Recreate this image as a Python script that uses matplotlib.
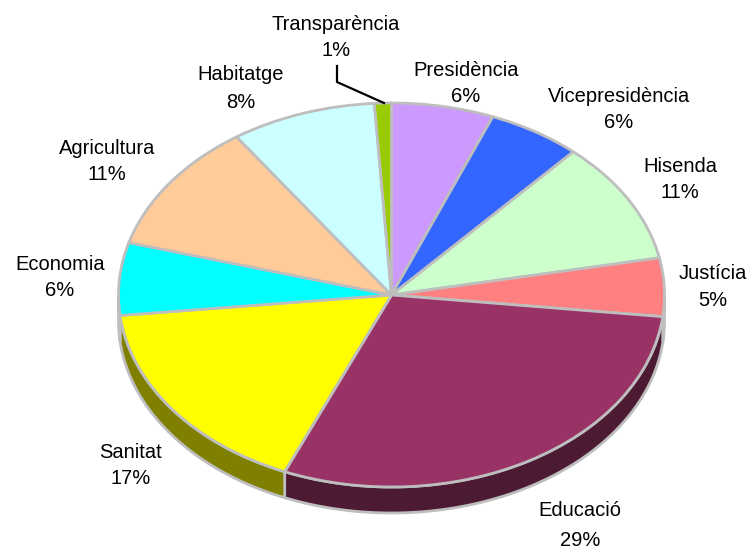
import numpy as np
import matplotlib
matplotlib.use('Agg')
import matplotlib.pyplot as plt
from matplotlib.lines import Line2D

plt.rcParams['font.family'] = ['Liberation Sans', 'DejaVu Sans']

categories = ['Presidència', 'Vicepresidència', 'Hisenda', 'Justícia', 'Educació',
              'Sanitat', 'Economia', 'Agricultura', 'Habitatge', 'Transparència']
# slice sizes as measured on the picture, the printed percentages are rounded
shares = [6.05, 5.55, 10.3, 4.9, 29.6, 16.9, 6.1, 11.0, 8.6, 1.0]
printed = ['6%', '6%', '11%', '5%', '29%', '17%', '6%', '11%', '8%', '1%']
colors = ['#CC99FF', '#3366FF', '#CCFFCC', '#FF8080', '#993366',
          '#FFFF00', '#00FFFF', '#FFCC99', '#CCFFFF', '#99CC00']
side_colors = ['#664C80', '#1A3380', '#668066', '#BEBEBE', '#4D1A33',
               '#808000', '#008080', '#80664C', '#668080', '#4D6600']

W, H = 752, 551
CX, CY, RX, RY = 391.5, 295.0, 273.0, 192.0
DEPTH = 26.0 / RY
EDGE = '#BEBEBE'

# label centres in pixels: name line, percent line
label_pos = [(466, 70, 96), (619, 96, 122), (680, 167, 193), (713, 274, 300), (580, 511, 540),
             (131, 452, 478), (60, 264, 290), (107, 148, 174), (241, 75, 102), (336, 24, 51)]

fig = plt.figure(figsize=(W / 100, H / 100), dpi=100)
ax = fig.add_axes([(CX - RX) / W, 1 - (CY + RY) / H, 2 * RX / W, 2 * RY / H])

wedges, _ = ax.pie(shares, colors=colors, startangle=90, counterclock=False, radius=1,
                   wedgeprops={'edgecolor': EDGE, 'linewidth': 2.0, 'joinstyle': 'round', 'zorder': 3})
ax.set_aspect('auto')
ax.set_xlim(-1, 1)
ax.set_ylim(-1, 1)
ax.axis('off')

# side wall of the visible lower half
for w, c in zip(wedges, side_colors):
    t1, t2 = w.theta1 % 360, w.theta2 % 360
    if t2 < t1:
        t2 += 360
    t1, t2 = max(t1, 180), min(t2, 360)
    if t2 <= t1:
        continue
    t = np.radians(np.linspace(t1, t2, 80))
    x = np.cos(t)
    y = np.sin(t)
    ax.fill(np.r_[x, x[::-1]], np.r_[y, y[::-1] - DEPTH], facecolor=c, edgecolor=EDGE,
            linewidth=2.0, clip_on=False, zorder=1)

for w in wedges:
    w.set_clip_on(False)

for name, pct, (x, y1, y2) in zip(categories, printed, label_pos):
    fig.text(x / W, 1 - y1 / H, name, ha='center', va='center', fontsize=14.5, color='black')
    fig.text(x / W, 1 - y2 / H, pct, ha='center', va='center', fontsize=14.5, color='black')

# leader line for the smallest slice
fig.add_artist(Line2D(np.array([337, 337, 384]) / W, 1 - np.array([66, 82, 103]) / H,
                      color='black', linewidth=1.6))

fig.savefig('out.png', dpi=100)
